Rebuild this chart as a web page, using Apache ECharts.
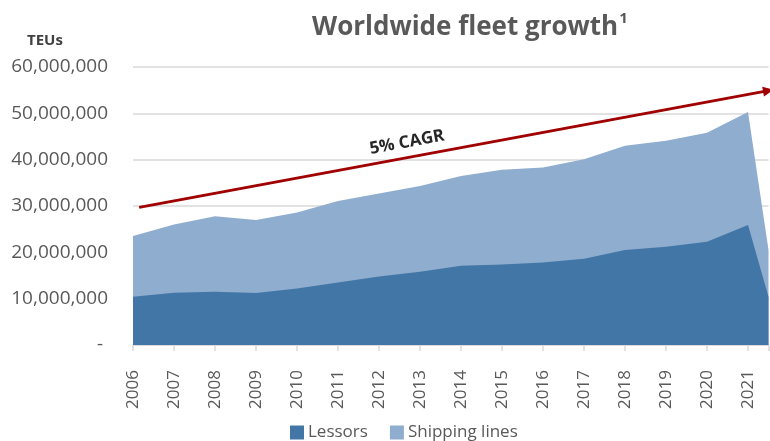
<!DOCTYPE html>
<html>
<head>
<meta charset="utf-8">
<title>Worldwide fleet growth</title>
<script src="https://cdn.jsdelivr.net/npm/echarts@6/dist/echarts.min.js"></script>
<style>
  html, body { margin: 0; padding: 0; background: #ffffff; }
  #chart { width: 770px; height: 441px; }
</style>
</head>
<body>
<div id="chart"></div>
<script>
// Fleet size in TEUs; the last entry is the mid-year figure after 2021
const years = [2006, 2007, 2008, 2009, 2010, 2011, 2012, 2013, 2014, 2015, 2016, 2017, 2018, 2019, 2020, 2021, 2021.5];
const lessors = [10400000, 11300000, 11500000, 11200000, 12200000, 13500000, 14800000, 15800000, 17100000, 17400000, 17800000, 18600000, 20500000, 21200000, 22300000, 25900000, 10400000];
const shippingLines = [13100000, 14700000, 16300000, 15800000, 16400000, 17600000, 17900000, 18500000, 19400000, 20400000, 20500000, 21500000, 22500000, 22900000, 23500000, 24400000, 10100000];

// Axis ranges
const xRange = [2006, 2021.5];
const yRange = [0, 60000000];
const yStep = 10000000;

// Trend arrow (year, TEUs) and its caption
const cagrStart = [2006.15, 29700000];
const cagrEnd = [2021.5, 54900000];
const cagrLabel = '5% CAGR';

const FONT = "'Open Sans', 'Liberation Sans', sans-serif";
const GREY = '#595959';
const GRID_GREY = '#d9d9d9';
const DARK_BLUE = '#4276a6';
const LIGHT_BLUE = '#8fadce';
const ARROW_RED = '#a00000';

// Lessors sit at the bottom; the shipping-line band is drawn as the fleet total
// behind them, so its visible part is exactly the shipping-line share.
const lessorPoints = years.map((y, i) => [y, lessors[i]]);
const totalPoints = years.map((y, i) => [y, lessors[i] + shippingLines[i]]);

const fmtTeu = (v) => {
  if (v === 0) return '- ';
  return String(Math.round(v)).replace(/\B(?=(\d{3})+(?!\d))/g, ',');
};

const chart = echarts.init(document.getElementById('chart'), null, { renderer: 'canvas' });

const teuCaption = {
  type: 'text',
  left: 27,
  top: 33,
  style: { text: 'TEUs', fontFamily: FONT, fontSize: 15, fontWeight: 'bold', fill: '#404040' }
};

chart.setOption({
  animation: false,
  backgroundColor: '#ffffff',
  textStyle: { fontFamily: FONT },
  title: {
    text: '{t|Worldwide fleet growth}{s|1}',
    left: 307,
    top: 6,
    textStyle: {
      rich: {
        t: { fontFamily: FONT, fontSize: 26, fontWeight: 'bold', color: GREY, lineHeight: 34 },
        s: { fontFamily: FONT, fontSize: 15, fontWeight: 'bold', color: GREY, lineHeight: 22, verticalAlign: 'top', padding: [0, 0, 0, 1] }
      }
    }
  },
  legend: {
    data: ['Lessors', 'Shipping lines'],
    left: 285,
    top: 419,
    icon: 'rect',
    itemWidth: 14,
    itemHeight: 14,
    itemGap: 22,
    selectedMode: false,
    textStyle: { fontFamily: FONT, fontSize: 17, color: GREY, padding: [0, 0, 0, -1] }
  },
  graphic: [teuCaption],
  grid: { left: 133, right: 1.5, top: 67, bottom: 96 },
  xAxis: {
    type: 'value',
    min: xRange[0],
    max: xRange[1],
    interval: 1,
    axisLine: { show: true, lineStyle: { color: GRID_GREY, width: 1.5 } },
    axisTick: { show: true, length: 6, lineStyle: { color: GRID_GREY, width: 1.5 } },
    splitLine: { show: false },
    axisLabel: {
      rotate: 90,
      margin: 25,
      fontSize: 17,
      color: GREY,
      fontFamily: FONT,
      formatter: (v) => (Number.isInteger(v) ? String(v) : '')
    }
  },
  yAxis: {
    type: 'value',
    min: yRange[0],
    max: yRange[1],
    interval: yStep,
    axisLine: { show: false },
    axisTick: { show: false },
    splitLine: { show: true, lineStyle: { color: GRID_GREY, width: 1.5 } },
    axisLabel: { margin: 25, fontSize: 19, color: GREY, fontFamily: FONT, formatter: fmtTeu }
  },
  series: [
    {
      name: 'Shipping lines',
      type: 'line',
      data: totalPoints,
      symbol: 'none',
      lineStyle: { width: 0 },
      itemStyle: { color: LIGHT_BLUE },
      areaStyle: { color: LIGHT_BLUE, opacity: 1 },
      z: 1
    },
    {
      name: 'Lessors',
      type: 'line',
      data: lessorPoints,
      symbol: 'none',
      lineStyle: { width: 0 },
      itemStyle: { color: DARK_BLUE },
      areaStyle: { color: DARK_BLUE, opacity: 1 },
      z: 2
    },
    {
      name: 'CAGR',
      type: 'line',
      data: [],
      z: 5,
      markLine: {
        silent: true,
        animation: false,
        symbol: ['none', 'triangle'],
        symbolSize: [10, 11],
        label: { show: false },
        lineStyle: { color: ARROW_RED, width: 3, type: 'solid' },
        data: [[{ coord: cagrStart }, { coord: cagrEnd }]]
      }
    }
  ]
});

// Caption sits above the trend arrow, rotated to follow it
const p0 = chart.convertToPixel({ gridIndex: 0 }, cagrStart);
const p1 = chart.convertToPixel({ gridIndex: 0 }, cagrEnd);
const dx = p1[0] - p0[0];
const dy = p1[1] - p0[1];
const len = Math.sqrt(dx * dx + dy * dy);
const t = 0.43;
const off = 15;
const cx = p0[0] + dx * t + (dy / len) * off;
const cy = p0[1] + dy * t - (dx / len) * off;

chart.setOption({
  graphic: [
    teuCaption,
    {
      type: 'text',
      x: cx,
      y: cy,
      rotation: -Math.atan2(dy, dx),
      style: {
        text: cagrLabel,
        fontFamily: FONT,
        fontSize: 17,
        fontWeight: 'bold',
        fill: '#262626',
        align: 'center',
        verticalAlign: 'middle'
      }
    }
  ]
});
</script>
</body>
</html>
